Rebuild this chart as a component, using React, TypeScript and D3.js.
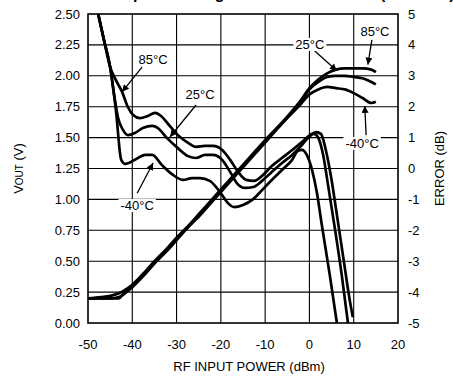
import React, { useRef, useEffect } from 'react';
import * as d3 from 'd3';

// axes
const powerTicks = [-50, -40, -30, -20, -10, 0, 10, 20];
const voutTicks = [0, 0.25, 0.5, 0.75, 1.0, 1.25, 1.5, 1.75, 2.0, 2.25, 2.5];
const errorTicks = [-5, -4, -3, -2, -1, 0, 1, 2, 3, 4, 5];

// VOUT (V) vs RF input power (dBm)
const voutPower = [-50, -47, -45, -43, -42, -40, -37, -35, -32, -30, -27, -25, -22, -20, -17, -15, -12, -10, -7, -5, -2, 0, 2, 4, 6, 8, 10, 12, 14, 15];
const vout85 = [0.20, 0.20, 0.20, 0.20, 0.24, 0.30, 0.41, 0.49, 0.60, 0.68, 0.79, 0.87, 0.99, 1.07, 1.19, 1.27, 1.39, 1.47, 1.59, 1.67, 1.80, 1.90, 1.97, 2.02, 2.05, 2.06, 2.06, 2.06, 2.05, 2.03];
const vout25 = [0.20, 0.20, 0.20, 0.21, 0.23, 0.29, 0.40, 0.48, 0.59, 0.67, 0.79, 0.86, 0.98, 1.06, 1.18, 1.26, 1.38, 1.46, 1.58, 1.66, 1.79, 1.89, 1.95, 1.99, 2.00, 2.00, 1.99, 1.98, 1.95, 1.93];
const voutM40 = [0.20, 0.21, 0.22, 0.24, 0.26, 0.31, 0.42, 0.50, 0.61, 0.69, 0.80, 0.88, 1.00, 1.08, 1.20, 1.28, 1.40, 1.48, 1.59, 1.66, 1.77, 1.85, 1.89, 1.91, 1.90, 1.89, 1.86, 1.82, 1.78, 1.79];

// log conformance error (dB)
const errPower85 = [-47.7, -46.4, -45.0, -43.7, -42.3, -41.0, -39.8, -38.3, -36.5, -34.9, -33.5, -31.9, -29.7, -27.4, -25.6, -23.6, -21.8, -19.7, -17.9, -16.1, -14.3, -12.5, -10.7, -8.5, -6.2, -3.9, -1.7, 0.1, 1.5, 2.6, 3.7, 4.9, 6.2, 7.8, 9.1, 9.8];
const err85 = [5.0, 4.16, 3.28, 2.86, 2.48, 1.99, 1.73, 1.63, 1.70, 1.80, 1.70, 1.44, 1.08, 0.83, 0.70, 0.73, 0.73, 0.60, 0.28, -0.11, -0.37, -0.40, -0.24, 0.08, 0.34, 0.60, 0.86, 1.08, 1.18, 1.12, 0.60, -0.28, -1.50, -3.03, -4.26, -4.81];

const errPower25 = [-47.7, -46.4, -45.0, -44.1, -43.2, -42.1, -41.0, -39.4, -37.6, -35.5, -34.2, -32.2, -29.7, -27.4, -25.6, -23.6, -21.8, -19.7, -17.9, -16.4, -14.6, -12.7, -10.7, -8.5, -6.2, -3.9, -1.7, 0.1, 1.0, 1.9, 3.1, 4.2, 5.8, 7.3, 8.7];
const err25 = [5.0, 4.16, 3.28, 2.38, 1.63, 1.25, 1.08, 1.15, 1.31, 1.38, 1.31, 0.99, 0.66, 0.40, 0.34, 0.44, 0.44, 0.28, -0.11, -0.47, -0.63, -0.60, -0.40, -0.11, 0.18, 0.44, 0.76, 1.05, 1.12, 1.02, 0.44, -0.53, -1.99, -3.45, -5.0];

const errPowerM40 = [-47.7, -46.4, -45.0, -43.7, -42.5, -41.6, -39.4, -37.1, -35.5, -33.3, -30.8, -28.5, -26.5, -24.7, -22.5, -20.2, -18.4, -17.0, -15.0, -12.7, -10.7, -8.5, -6.2, -3.9, -2.6, -1.7, -0.6, 0.6, 1.7, 2.8, 4.6, 6.2];
const errM40 = [5.0, 4.16, 3.28, 1.89, 0.28, 0.15, 0.28, 0.44, 0.44, 0.11, -0.21, -0.37, -0.31, -0.31, -0.40, -0.76, -1.12, -1.25, -1.18, -0.99, -0.70, -0.37, -0.05, 0.28, 0.57, 0.60, 0.44, -0.05, -0.79, -1.83, -3.45, -5.0];

const font = 'Arial, "Liberation Sans", sans-serif';

function App() {
    const ref = useRef(null);

    useEffect(() => {
        const width = 453;
        const height = 385;
        const margin = { top: 14, right: 55, bottom: 62, left: 88 };
        const w = width - margin.left - margin.right;
        const h = height - margin.top - margin.bottom;

        const root = d3.select(ref.current);
        root.selectAll('*').remove();
        root.attr('width', width).attr('height', height);

        const defs = root.append('defs');
        defs.append('marker')
            .attr('id', 'arrow')
            .attr('viewBox', '0 0 10 10')
            .attr('refX', 10)
            .attr('refY', 5)
            .attr('markerWidth', 9)
            .attr('markerHeight', 7)
            .attr('markerUnits', 'userSpaceOnUse')
            .attr('orient', 'auto')
            .append('path')
            .attr('d', 'M0,0 L10,5 L0,10 z')
            .attr('fill', '#000');

        // title, cut off by the top edge as in the original
        root.append('text')
            .attr('x', 280)
            .attr('y', -1)
            .attr('text-anchor', 'middle')
            .style('font-family', font)
            .style('font-weight', 'bold')
            .style('font-size', '16px')
            .text('Output and Log Conformance Error (900 MHz)');

        const svg = root.append('g')
            .attr('transform', `translate(${margin.left},${margin.top})`);

        const x = d3.scaleLinear().domain([-50, 20]).range([0, w]);
        const yV = d3.scaleLinear().domain([0, 2.5]).range([h, 0]);
        const yE = d3.scaleLinear().domain([-5, 5]).range([h, 0]);

        // grid
        svg.append('g')
            .selectAll('line')
            .data(powerTicks.slice(1, -1))
            .enter().append('line')
            .attr('x1', d => x(d)).attr('x2', d => x(d))
            .attr('y1', 0).attr('y2', h)
            .attr('stroke', '#000').attr('stroke-width', 1.1);
        svg.append('g')
            .selectAll('line')
            .data(voutTicks.slice(1, -1))
            .enter().append('line')
            .attr('x1', 0).attr('x2', w)
            .attr('y1', d => yV(d)).attr('y2', d => yV(d))
            .attr('stroke', '#000').attr('stroke-width', 1.1);
        svg.append('rect')
            .attr('width', w).attr('height', h)
            .attr('fill', 'none')
            .attr('stroke', '#000')
            .attr('stroke-width', 1.6);

        // tick labels
        svg.append('g')
            .selectAll('text')
            .data(voutTicks)
            .enter().append('text')
            .attr('x', -8)
            .attr('y', d => yV(d))
            .attr('dy', '0.35em')
            .attr('text-anchor', 'end')
            .style('font-family', font).style('font-size', '13px')
            .text(d => d.toFixed(2));
        svg.append('g')
            .selectAll('text')
            .data(errorTicks)
            .enter().append('text')
            .attr('x', w + 10)
            .attr('y', d => yE(d))
            .attr('dy', '0.35em')
            .attr('text-anchor', 'start')
            .style('font-family', font).style('font-size', '13px')
            .text(d => d);
        svg.append('g')
            .selectAll('text')
            .data(powerTicks)
            .enter().append('text')
            .attr('x', d => x(d))
            .attr('y', h + 26)
            .attr('text-anchor', 'middle')
            .style('font-family', font).style('font-size', '13px')
            .text(d => d);

        // axis titles
        svg.append('text')
            .attr('x', w / 2 + 6)
            .attr('y', h + 48)
            .attr('text-anchor', 'middle')
            .style('font-family', font).style('font-size', '13px')
            .text('RF INPUT POWER (dBm)');

        const yl = svg.append('text')
            .attr('transform', `translate(${-65},${h / 2}) rotate(-90)`)
            .attr('text-anchor', 'middle')
            .style('font-family', font).style('font-size', '13px');
        yl.append('tspan').text('V');
        yl.append('tspan').style('font-size', '10px').text('OUT');
        yl.append('tspan').text(' (V)');

        svg.append('text')
            .attr('transform', `translate(${w + 46},${h / 2}) rotate(-90)`)
            .attr('text-anchor', 'middle')
            .style('font-family', font).style('font-size', '13px')
            .text('ERROR (dB)');

        // curves
        const line = (xs, ys, yScale) => d3.line()
            .x((d, i) => x(xs[i]))
            .y(d => yScale(d))
            .curve(d3.curveMonotoneX)(ys);

        const curves = [
            line(voutPower, vout85, yV),
            line(voutPower, vout25, yV),
            line(voutPower, voutM40, yV),
            line(errPower85, err85, yE),
            line(errPower25, err25, yE),
            line(errPowerM40, errM40, yE),
        ];
        svg.append('g')
            .selectAll('path')
            .data(curves)
            .enter().append('path')
            .attr('d', d => d)
            .attr('fill', 'none')
            .attr('stroke', '#000')
            .attr('stroke-width', 2.7)
            .attr('stroke-linejoin', 'round');

        // annotations (positions in power / VOUT units)
        const notes = [
            { t: '85°C', p: -35.3, v: 2.095, a: [-37.8, 2.07, -42.3, 1.87], bg: false },
            { t: '25°C', p: -24.7, v: 1.81, a: [-25.6, 1.764, -31.5, 1.505], bg: false },
            { t: '-40°C', p: -38.9, v: 0.914, a: [-38.9, 1.05, -35.3, 1.295], bg: true },
            { t: '25°C', p: 0.1, v: 2.217, a: [1.2, 2.2, 6.2, 2.04], bg: true },
            { t: '85°C', p: 14.8, v: 2.32, a: [14.1, 2.29, 13.2, 2.09], bg: false },
            { t: '-40°C', p: 11.9, v: 1.416, a: [12.8, 1.52, 12.5, 1.756], bg: true },
        ];
        const ann = svg.append('g');
        notes.forEach(n => {
            ann.append('line')
                .attr('x1', x(n.a[0])).attr('y1', yV(n.a[1]))
                .attr('x2', x(n.a[2])).attr('y2', yV(n.a[3]))
                .attr('stroke', '#000').attr('stroke-width', 1.3)
                .attr('marker-end', 'url(#arrow)');
            const g = ann.append('g');
            const txt = g.append('text')
                .attr('x', x(n.p))
                .attr('y', yV(n.v))
                .attr('text-anchor', 'middle')
                .style('font-family', font).style('font-size', '13px')
                .text(n.t);
            if (n.bg) {
                const b = txt.node().getBBox();
                g.insert('rect', 'text')
                    .attr('x', b.x - 2).attr('y', b.y + 1)
                    .attr('width', b.width + 4).attr('height', b.height - 2)
                    .attr('fill', '#fff');
            }
        });
    }, []);

    return (
        <svg ref={ref} style={{ position: 'absolute', left: 0, top: 0 }} />
    );
}

export default App;
